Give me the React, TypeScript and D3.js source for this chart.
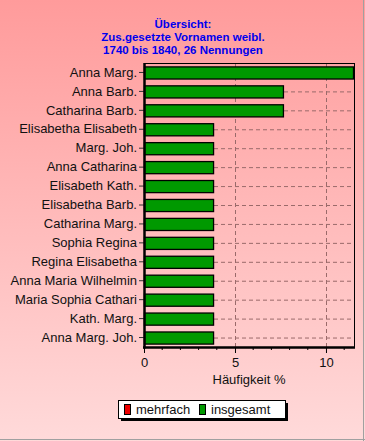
import React, { useEffect, useRef } from 'react';
import * as d3 from 'd3';

// Vornamen (top to bottom)
const names = [
  'Anna Marg.',
  'Anna Barb.',
  'Catharina Barb.',
  'Elisabetha Elisabeth',
  'Marg. Joh.',
  'Anna Catharina',
  'Elisabeth Kath.',
  'Elisabetha Barb.',
  'Catharina Marg.',
  'Sophia Regina',
  'Regina Elisabetha',
  'Anna Maria Wilhelmin',
  'Maria Sophia Cathari',
  'Kath. Marg.',
  'Anna Marg. Joh.',
];
// Häufigkeit in % (insgesamt)
const insgesamt = [11.54, 7.69, 7.69, 3.85, 3.85, 3.85, 3.85, 3.85, 3.85, 3.85, 3.85, 3.85, 3.85, 3.85, 3.85];
// mehrfach (none visible)
const mehrfach = [0, 0, 0, 0, 0, 0, 0, 0, 0, 0, 0, 0, 0, 0, 0];
const xTicks = [0, 5, 10];
const titleLines = ['Übersicht:', 'Zus.gesetzte Vornamen weibl.', '1740 bis 1840, 26 Nennungen'];
const legendItems = [
  { label: 'mehrfach', color: '#ee0000' },
  { label: 'insgesamt', color: '#009900' },
];

export default function App() {
  const ref = useRef<SVGSVGElement>(null);

  useEffect(() => {
    const W = 365, H = 441;
    const margin = { top: 63, right: 11, bottom: 94, left: 144 };
    const innerW = W - margin.left - margin.right;
    const innerH = H - margin.top - margin.bottom;
    const font = 'Liberation Sans, Arial, sans-serif';

    const svg = d3.select(ref.current);
    svg.selectAll('*').remove();

    const defs = svg.append('defs');
    const grad = defs.append('linearGradient').attr('id', 'bg').attr('x1', 0).attr('y1', 0).attr('x2', 0).attr('y2', 1);
    grad.append('stop').attr('offset', '0%').attr('stop-color', '#ff9b9b');
    grad.append('stop').attr('offset', '100%').attr('stop-color', '#ffdada');

    svg.append('rect').attr('width', W).attr('height', H).attr('fill', 'url(#bg)');
    svg.append('line').attr('x1', W - 1.5).attr('x2', W - 1.5).attr('y1', 0).attr('y2', H).attr('stroke', '#a0a0a0').attr('stroke-width', 1);
    svg.append('line').attr('x1', 0).attr('x2', W).attr('y1', H - 1.5).attr('y2', H - 1.5).attr('stroke', '#a0a0a0').attr('stroke-width', 1);

    // title
    svg.append('g').selectAll('text').data(titleLines).enter().append('text')
      .attr('x', 183).attr('y', (d, i) => 28 + i * 13)
      .attr('text-anchor', 'middle')
      .attr('font-family', font).attr('font-size', 11.5).attr('font-weight', 'bold')
      .attr('fill', '#0000ee')
      .text(d => d);

    const x = d3.scaleLinear().domain([0, d3.max(insgesamt) as number]).range([0, innerW]);
    const y = d3.scaleBand().domain(names).range([0, innerH]).paddingInner(0.36).paddingOuter(0.18);

    const g = svg.append('g').attr('transform', `translate(${margin.left},${margin.top})`);

    // grid
    g.selectAll('.hgrid').data(names).enter().append('line')
      .attr('x1', 0).attr('x2', innerW)
      .attr('y1', d => (y(d) as number) + y.bandwidth() / 2 + 0.5)
      .attr('y2', d => (y(d) as number) + y.bandwidth() / 2 + 0.5)
      .attr('stroke', '#9a6a6a').attr('stroke-dasharray', '4,3');
    g.selectAll('.vgrid').data(xTicks.slice(1)).enter().append('line')
      .attr('x1', d => Math.round(x(d)) + 0.5).attr('x2', d => Math.round(x(d)) + 0.5)
      .attr('y1', 0).attr('y2', innerH)
      .attr('stroke', '#9a6a6a').attr('stroke-dasharray', '4,3');

    // frame
    g.append('rect').attr('x', 0.5).attr('y', 0.5).attr('width', innerW).attr('height', innerH)
      .attr('fill', 'none').attr('stroke', '#000').attr('stroke-width', 1);

    // bars
    g.selectAll('.bar').data(names).enter().append('rect')
      .attr('x', 0.5)
      .attr('y', d => (y(d) as number) + 0.5)
      .attr('width', (d, i) => Math.max(0, x(insgesamt[i]) - 1))
      .attr('height', y.bandwidth())
      .attr('fill', '#009900').attr('stroke', '#000').attr('stroke-width', 1.3);
    g.selectAll('.bar2').data(names.filter((d, i) => mehrfach[i] > 0)).enter().append('rect')
      .attr('x', 0.5)
      .attr('y', d => (y(d) as number) + 0.5)
      .attr('width', d => x(mehrfach[names.indexOf(d)]))
      .attr('height', y.bandwidth())
      .attr('fill', '#ee0000').attr('stroke', '#000');

    // y axis
    const ya = g.append('g').call(d3.axisLeft(y).tickSize(5).tickPadding(2));
    ya.select('.domain').remove();
    ya.selectAll('text').attr('font-family', font).attr('font-size', 13).attr('fill', '#111');
    ya.selectAll('line').attr('stroke', '#333');
    g.append('line').attr('x1', 0.5).attr('x2', 0.5).attr('y1', 0).attr('y2', innerH + 1.5).attr('stroke', '#000').attr('stroke-width', 2.5);

    // x axis
    const xa = g.append('g').attr('transform', `translate(0,${innerH})`)
      .call(d3.axisBottom(x).tickValues(xTicks).tickSize(6).tickPadding(5).tickFormat(d3.format('d')));
    xa.select('.domain').remove();
    xa.selectAll('text').attr('font-family', font).attr('font-size', 13).attr('fill', '#111');
    xa.selectAll('line').attr('stroke', '#000');
    const minor = d3.range(1, 12).filter(v => v % 5 !== 0);
    g.append('g').attr('transform', `translate(0,${innerH})`).selectAll('line').data(minor).enter().append('line')
      .attr('x1', d => x(d)).attr('x2', d => x(d)).attr('y1', 0).attr('y2', 3).attr('stroke', '#000');
    g.append('line').attr('x1', -1).attr('x2', innerW + 1).attr('y1', innerH + 0.5).attr('y2', innerH + 0.5).attr('stroke', '#000').attr('stroke-width', 2.5);

    g.append('text').attr('x', innerW / 2).attr('y', innerH + 37)
      .attr('text-anchor', 'middle').attr('font-family', font).attr('font-size', 13).attr('fill', '#111')
      .text('Häufigkeit %');

    // legend
    const lg = svg.append('g').attr('transform', 'translate(118,400)');
    lg.append('rect').attr('x', 3).attr('y', 3).attr('width', 167).attr('height', 18).attr('fill', '#000');
    lg.append('rect').attr('x', 0.5).attr('y', 0.5).attr('width', 167).attr('height', 18).attr('fill', '#fff').attr('stroke', '#000');
    const li = lg.selectAll('.li').data(legendItems).enter().append('g')
      .attr('transform', (d, i) => `translate(${6 + i * 75},0)`);
    li.append('rect').attr('x', 0.5).attr('y', 4.5).attr('width', 6).attr('height', 10).attr('fill', d => d.color).attr('stroke', '#000');
    li.append('text').attr('x', 12).attr('y', 14).attr('font-family', font).attr('font-size', 13).attr('fill', '#111').text(d => d.label);
  }, []);

  return (
    <svg ref={ref} width={365} height={441} style={{ position: 'absolute', left: 0, top: 0 }} />
  );
}
